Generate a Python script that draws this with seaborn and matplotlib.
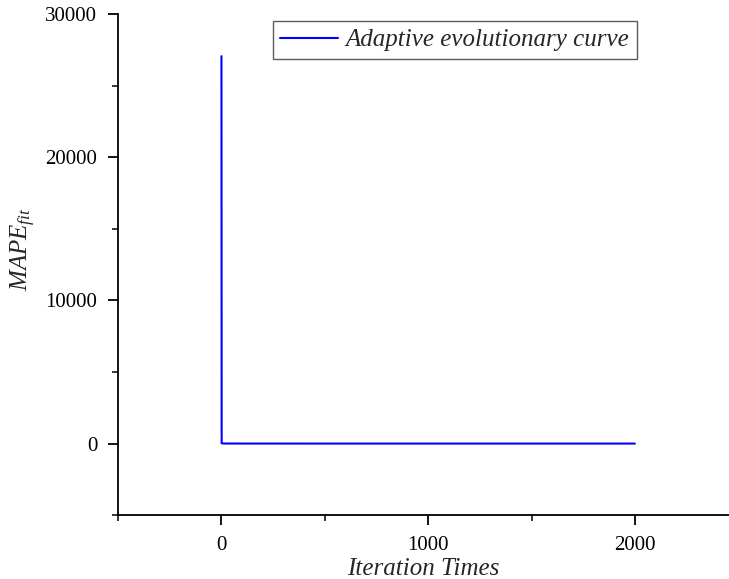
import pandas as pd
import seaborn as sns
import matplotlib.pyplot as plt
from matplotlib.ticker import MultipleLocator

# данные кривой сходимости
iterations = [0, 1, 10, 100, 500, 1000, 1500, 2000]
mape_fit = [27050, 30, 12, 9, 8, 8, 8, 8]

df = pd.DataFrame({'iter': iterations, 'mape': mape_fit})

sns.set_style('ticks')
plt.rcParams['font.family'] = ['Liberation Serif', 'DejaVu Serif']
plt.rcParams['mathtext.fontset'] = 'custom'
plt.rcParams['mathtext.it'] = 'Liberation Serif:italic'
plt.rcParams['mathtext.rm'] = 'Liberation Serif'

fig = plt.figure(figsize=(7.29, 5.79), dpi=100)
ax = fig.add_axes([0.162, 0.11, 0.845, 0.866])

sns.lineplot(x='iter', y='mape', data=df, color='#0000ff', linewidth=1.5,
             label='Adaptive evolutionary curve', ax=ax)

ax.set_xlim(-500, 2480)
ax.set_ylim(-5000, 30000)
ax.xaxis.set_major_locator(MultipleLocator(1000))
ax.xaxis.set_minor_locator(MultipleLocator(500))
ax.yaxis.set_major_locator(MultipleLocator(10000))
ax.yaxis.set_minor_locator(MultipleLocator(5000))
ax.tick_params(which='major', direction='out', length=7, width=1.3, labelsize=15,
               colors='black')
ax.tick_params(axis='y', which='major', pad=8)
ax.tick_params(axis='x', which='major', pad=8)
ax.tick_params(which='minor', direction='out', length=4, width=1.3)

for s in ['top', 'right']:
    ax.spines[s].set_visible(False)
for s in ['left', 'bottom']:
    ax.spines[s].set_linewidth(1.3)
    ax.spines[s].set_color('black')

ax.set_xlabel('Iteration Times', fontsize=18, style='italic')
ax.xaxis.set_label_coords(0.495, -0.085)
ax.set_ylabel(r'$MAPE_{fit}$', fontsize=18)
ax.yaxis.set_label_coords(-0.13, 0.53)

leg = ax.legend(loc='upper left', bbox_to_anchor=(0.247, 0.99), fontsize=18,
                frameon=True, fancybox=False, edgecolor='#333333',
                handlelength=2.3, handletextpad=0.3, borderpad=0.3, borderaxespad=0.1)
leg.get_frame().set_linewidth(1.0)
for t in leg.get_texts():
    t.set_fontstyle('italic')

plt.savefig('out.png', dpi=100)
